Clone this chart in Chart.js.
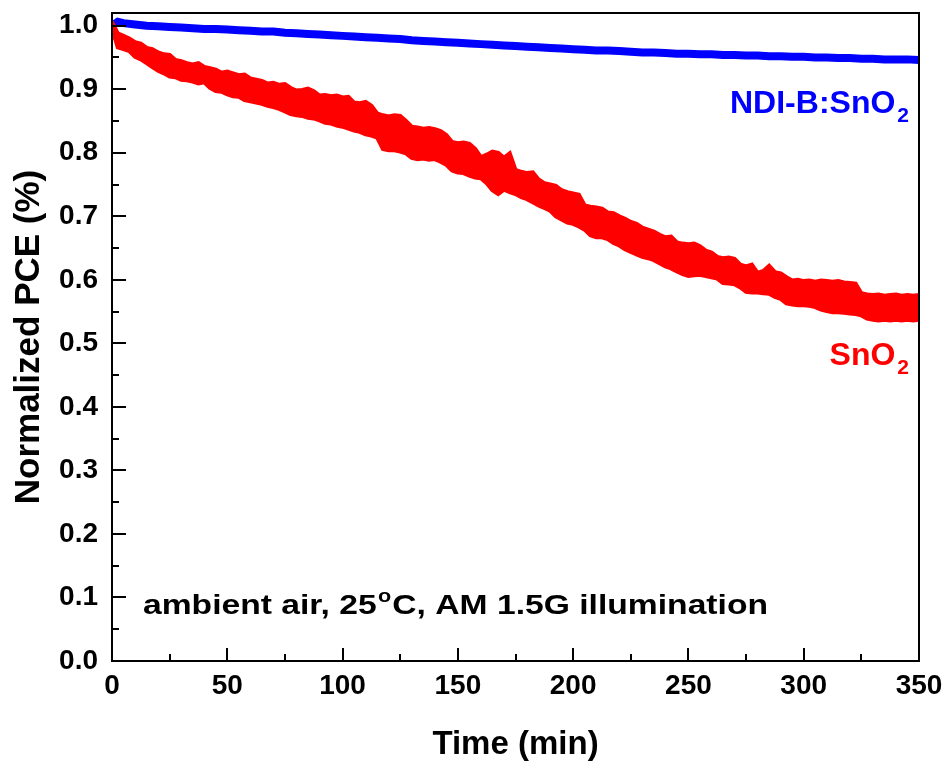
<!DOCTYPE html>
<html>
<head>
<meta charset="utf-8">
<script src="https://cdn.jsdelivr.net/npm/chart.js@4.4.0/dist/chart.umd.min.js"></script>
<style>
    html, body { margin: 0; padding: 0; background: #fff; }
    #wrap { width: 949px; height: 765px; }
</style>
</head>
<body>
<div id="wrap"><canvas id="pceChart" width="949" height="765"></canvas></div>
<script>
// time axis (min) for each series
const redTime = [];
for (let i = 0; i <= 140; i++) redTime.push(i * 2.5);
const blueTime = [0, 2.5];
for (let i = 1; i <= 70; i++) blueTime.push(i * 5);

const snO2Upper = [
    1.006, 0.988, 0.984, 0.980, 0.974, 0.972, 0.965, 0.963, 0.958, 0.955,
    0.954, 0.946, 0.944, 0.941, 0.939, 0.941, 0.935, 0.933, 0.931, 0.926,
    0.928, 0.925, 0.922, 0.923, 0.917, 0.915, 0.913, 0.909, 0.910, 0.907,
    0.908, 0.902, 0.898, 0.899, 0.901, 0.897, 0.890, 0.891, 0.889, 0.890,
    0.887, 0.888, 0.879, 0.878, 0.880, 0.874, 0.862, 0.859, 0.857, 0.859,
    0.858, 0.850, 0.841, 0.840, 0.838, 0.839, 0.837, 0.834, 0.828, 0.817,
    0.815, 0.816, 0.814, 0.806, 0.793, 0.797, 0.802, 0.800, 0.792, 0.799,
    0.773, 0.770, 0.768, 0.769, 0.758, 0.752, 0.750, 0.748, 0.741, 0.738,
    0.736, 0.734, 0.717, 0.715, 0.714, 0.712, 0.706, 0.705, 0.700, 0.696,
    0.691, 0.688, 0.682, 0.679, 0.676, 0.671, 0.667, 0.668, 0.659, 0.657,
    0.656, 0.657, 0.653, 0.646, 0.643, 0.636, 0.634, 0.635, 0.633, 0.624,
    0.621, 0.624, 0.611, 0.614, 0.622, 0.612, 0.610, 0.604, 0.599, 0.600,
    0.598, 0.599, 0.597, 0.599, 0.598, 0.597, 0.598, 0.596, 0.595, 0.594,
    0.579, 0.577, 0.576, 0.577, 0.575, 0.576, 0.577, 0.575, 0.576, 0.575,
    0.576
];
const snO2Lower = [
    0.995, 0.966, 0.963, 0.960, 0.951, 0.947, 0.941, 0.935, 0.929, 0.925,
    0.920, 0.919, 0.915, 0.914, 0.912, 0.909, 0.911, 0.902, 0.897, 0.896,
    0.892, 0.889, 0.888, 0.883, 0.881, 0.879, 0.877, 0.874, 0.872, 0.869,
    0.865, 0.861, 0.859, 0.858, 0.855, 0.854, 0.851, 0.847, 0.846, 0.843,
    0.841, 0.838, 0.835, 0.833, 0.829, 0.827, 0.824, 0.806, 0.804, 0.804,
    0.802, 0.799, 0.792, 0.790, 0.791, 0.789, 0.790, 0.786, 0.781, 0.772,
    0.769, 0.768, 0.764, 0.761, 0.760, 0.752, 0.741, 0.735, 0.742, 0.738,
    0.735, 0.730, 0.727, 0.722, 0.717, 0.713, 0.709, 0.700, 0.695, 0.690,
    0.688, 0.684, 0.679, 0.670, 0.667, 0.667, 0.664, 0.658, 0.654, 0.648,
    0.644, 0.640, 0.636, 0.634, 0.631, 0.626, 0.621, 0.618, 0.613, 0.609,
    0.606, 0.607, 0.608, 0.606, 0.604, 0.602, 0.595, 0.594, 0.593, 0.588,
    0.581, 0.580, 0.580, 0.579, 0.578, 0.573, 0.570, 0.563, 0.561, 0.560,
    0.560, 0.559, 0.557, 0.553, 0.551, 0.549, 0.549, 0.548, 0.547, 0.546,
    0.544, 0.539, 0.537, 0.536, 0.537, 0.536, 0.537, 0.536, 0.537, 0.536,
    0.537
];

// NDI-B:SnO2, normalized PCE
const ndiB = [
    1.000, 1.006, 1.004, 1.002, 1.000, 0.999, 0.998, 0.997, 0.996, 0.995,
    0.995, 0.994, 0.993, 0.992, 0.991, 0.991, 0.989, 0.988, 0.987, 0.986,
    0.985, 0.984, 0.983, 0.982, 0.981, 0.980, 0.979, 0.977, 0.976, 0.975,
    0.974, 0.973, 0.972, 0.971, 0.970, 0.969, 0.968, 0.967, 0.966, 0.965,
    0.964, 0.963, 0.962, 0.961, 0.961, 0.960, 0.959, 0.958, 0.958, 0.957,
    0.956, 0.956, 0.955, 0.955, 0.954, 0.954, 0.953, 0.953, 0.952, 0.952,
    0.951, 0.951, 0.950, 0.950, 0.949, 0.949, 0.948, 0.948, 0.947, 0.947,
    0.947, 0.946
];

const xTicks = [0, 50, 100, 150, 200, 250, 300, 350];
const xMinor = [25, 75, 125, 175, 225, 275, 325];
const yTicks = [0, 0.1, 0.2, 0.3, 0.4, 0.5, 0.6, 0.7, 0.8, 0.9, 1.0];
const yMinor = [0.05, 0.15, 0.25, 0.35, 0.45, 0.55, 0.65, 0.75, 0.85, 0.95];

const FONT = 'Liberation Sans, Arial, sans-serif';

function toPoints(xs, ys) {
    return ys.map((y, i) => ({ x: xs[i], y: y }));
}

// frame, inward ticks and the text notes
const decorPlugin = {
    id: 'decor',
    afterDraw(chart) {
        const ctx = chart.ctx;
        const a = chart.chartArea;
        const xs = chart.scales.x;
        const ys = chart.scales.y;
        ctx.save();
        ctx.strokeStyle = '#000';
        ctx.lineWidth = 2;
        ctx.strokeRect(a.left, a.top, a.right - a.left, a.bottom - a.top);

        ctx.beginPath();
        xTicks.forEach(v => {
            const px = Math.round(xs.getPixelForValue(v));
            ctx.moveTo(px, a.bottom); ctx.lineTo(px, a.bottom - 13);
        });
        xMinor.forEach(v => {
            const px = Math.round(xs.getPixelForValue(v));
            ctx.moveTo(px, a.bottom); ctx.lineTo(px, a.bottom - 7);
        });
        yTicks.forEach(v => {
            const py = Math.round(ys.getPixelForValue(v));
            ctx.moveTo(a.left, py); ctx.lineTo(a.left + 14, py);
        });
        yMinor.forEach(v => {
            const py = Math.round(ys.getPixelForValue(v));
            ctx.moveTo(a.left, py); ctx.lineTo(a.left + 7, py);
        });
        ctx.stroke();

        // labels with subscripts
        function label(text, sub, right, baseline, color) {
            ctx.fillStyle = color;
            ctx.textBaseline = 'alphabetic';
            ctx.textAlign = 'left';
            ctx.font = 'bold 21px ' + FONT;
            const sw = ctx.measureText(sub).width;
            ctx.font = 'bold 32px ' + FONT;
            const tw = ctx.measureText(text).width;
            const x0 = right - sw - 2 - tw;
            ctx.fillText(text, x0, baseline);
            ctx.font = 'bold 21px ' + FONT;
            ctx.fillText(sub, x0 + tw + 2, baseline + 9);
        }
        label('NDI-B:SnO', '2', 909, 113, '#0000ff');
        label('SnO', '2', 909, 365, '#ff0000');

        // condition note, stretched to the width it has in the figure
        const part1 = 'ambient air, 25';
        const part2 = 'C, AM 1.5G illumination';
        ctx.fillStyle = '#000';
        ctx.textAlign = 'left';
        ctx.textBaseline = 'alphabetic';
        ctx.font = 'bold 28px ' + FONT;
        const w1 = ctx.measureText(part1).width;
        const w2 = ctx.measureText(part2).width;
        ctx.font = 'bold 18px ' + FONT;
        const wo = ctx.measureText('o').width + 2;
        const k = 625 / (w1 + wo + w2);
        ctx.translate(143, 614);
        ctx.scale(k, 1);
        ctx.font = 'bold 28px ' + FONT;
        ctx.fillText(part1, 0, 0);
        ctx.fillText(part2, w1 + wo, 0);
        ctx.font = 'bold 18px ' + FONT;
        ctx.fillText('o', w1 + 1, -12);
        ctx.restore();
    }
};

new Chart(document.getElementById('pceChart'), {
    type: 'line',
    data: {
        datasets: [
            {
                label: 'SnO2 upper',
                data: toPoints(redTime, snO2Upper),
                borderColor: '#ff0000',
                borderWidth: 4,
                pointRadius: 0,
                tension: 0,
                fill: false
            },
            {
                label: 'SnO2 lower',
                data: toPoints(redTime, snO2Lower),
                borderColor: '#ff0000',
                backgroundColor: '#ff0000',
                borderWidth: 4,
                pointRadius: 0,
                tension: 0,
                fill: '-1'
            },
            {
                label: 'NDI-B:SnO2',
                data: toPoints(blueTime, ndiB),
                borderColor: '#0000ff',
                borderWidth: 8,
                pointRadius: 0,
                tension: 0,
                fill: false
            }
        ]
    },
    options: {
        responsive: false,
        animation: false,
        layout: { padding: { top: 13, right: 30, left: 0, bottom: 0 } },
        plugins: {
            legend: { display: false },
            tooltip: { enabled: false }
        },
        scales: {
            x: {
                type: 'linear',
                min: 0,
                max: 350,
                grid: { display: false, drawTicks: false },
                border: { display: false },
                afterBuildTicks: s => { s.ticks = xTicks.map(v => ({ value: v })); },
                ticks: {
                    color: '#000',
                    padding: 8,
                    maxRotation: 0,
                    font: { family: FONT, size: 28, weight: 'bold' },
                    callback: v => String(v)
                },
                title: {
                    display: true,
                    text: 'Time (min)',
                    color: '#000',
                    padding: { top: 12, bottom: 0 },
                    font: { family: FONT, size: 33, weight: 'bold' }
                },
                afterFit: s => {
                    s.height = 104;
                    s.paddingLeft = 0;
                    s.paddingRight = 0;
                }
            },
            y: {
                type: 'linear',
                min: 0,
                max: 1.02,
                grid: { display: false, drawTicks: false },
                border: { display: false },
                afterBuildTicks: s => { s.ticks = yTicks.map(v => ({ value: v })); },
                ticks: {
                    color: '#000',
                    padding: 14,
                    font: { family: FONT, size: 28, weight: 'bold' },
                    callback: v => Number(v).toFixed(1)
                },
                title: {
                    display: true,
                    text: 'Normalized PCE (%)',
                    color: '#000',
                    padding: { top: 8, bottom: 0 },
                    font: { family: FONT, size: 35, weight: 'bold' }
                },
                afterFit: s => {
                    s.width = 112;
                    s.paddingTop = 0;
                    s.paddingBottom = 0;
                }
            }
        }
    },
    plugins: [decorPlugin]
});
</script>
</body>
</html>
